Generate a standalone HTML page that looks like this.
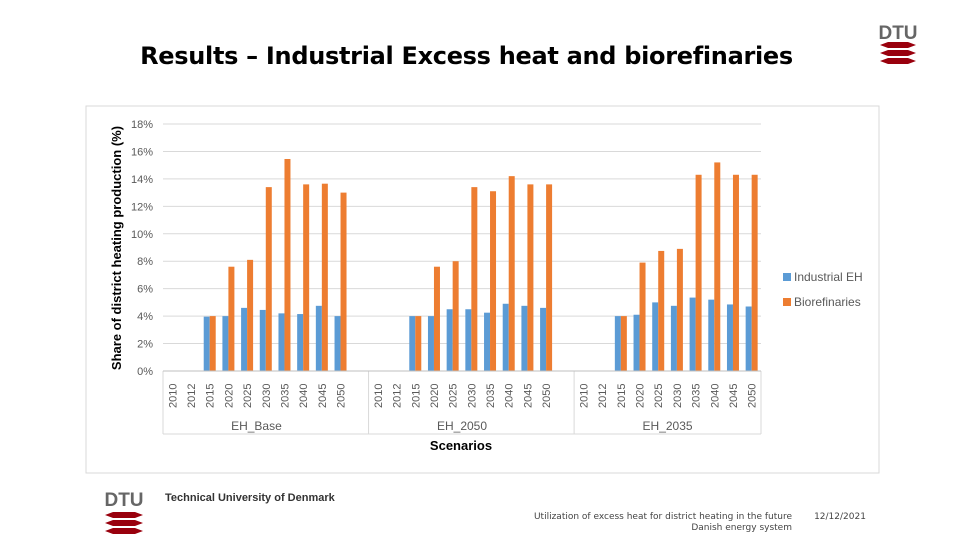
<!DOCTYPE html>
<html><head><meta charset="utf-8">
<style>
body{margin:0;width:960px;height:540px;background:#fff;position:relative;overflow:hidden;font-family:"Liberation Sans",sans-serif}
.abs{position:absolute}
</style></head><body>
<div class="abs" style="left:0;width:933px;top:42px;text-align:center;font:bold 24px 'DejaVu Sans',sans-serif;color:#000;letter-spacing:-0.3px">Results – Industrial Excess heat and biorefinaries</div>
<svg class="abs" style="left:0;top:0" width="960" height="540">
<g>
<text x="898" y="39" text-anchor="middle" font-family="Liberation Sans" font-weight="bold" font-size="19" fill="#666">DTU</text>
<g fill="#99000d"><path d="M880 45 l8 -3 h20 l8 3 l-8 3 h-20z"/><path d="M880 53 l8 -3 h20 l8 3 l-8 3 h-20z"/><path d="M880 61 l8 -3 h20 l8 3 l-8 3 h-20z"/></g>
</g>
<rect x="86" y="106" width="793" height="367" fill="#fff" stroke="#d9d9d9"/>
<g id="grid"></g><g id="bars"></g><g id="axis"></g>
<text transform="translate(121,248) rotate(-90)" text-anchor="middle" font-family="Liberation Sans" font-weight="bold" font-size="13" fill="#000">Share of district heating production (%)</text>
<text x="461" y="450" text-anchor="middle" font-family="Liberation Sans" font-weight="bold" font-size="13" fill="#000">Scenarios</text>
<g font-family="Liberation Sans" font-size="12" fill="#595959">
<rect x="783" y="273" width="8" height="8" fill="#5b9bd5"/>
<text x="794" y="281">Industrial EH</text>
<rect x="783" y="298" width="8" height="8" fill="#ed7d31"/>
<text x="794" y="306">Biorefinaries</text>
</g>
<g>
<text x="124" y="506" text-anchor="middle" font-family="Liberation Sans" font-weight="bold" font-size="19" fill="#666">DTU</text>
<g fill="#99000d"><path d="M105 515 l8 -3 h22 l8 3 l-8 3 h-22z"/><path d="M105 523 l8 -3 h22 l8 3 l-8 3 h-22z"/><path d="M105 531 l8 -3 h22 l8 3 l-8 3 h-22z"/></g>
</g>
<text x="165" y="501" font-family="Liberation Sans" font-weight="bold" font-size="11" fill="#333">Technical University of Denmark</text>
<text x="792" y="519" text-anchor="end" font-family="DejaVu Sans" font-size="9" fill="#444">Utilization of excess heat for district heating in the future</text>
<text x="792" y="530" text-anchor="end" font-family="DejaVu Sans" font-size="9" fill="#444">Danish energy system</text>
<text x="840" y="519" text-anchor="middle" font-family="DejaVu Sans" font-size="9" fill="#444">12/12/2021</text>
</svg>
<script>
const scenarios=["EH_Base","EH_2050","EH_2035"];
const years=["2010","2012","2015","2020","2025","2030","2035","2040","2045","2050"];
const industrialEH=[
[null,null,3.96,4.0,4.6,4.45,4.2,4.15,4.75,4.0],
[null,null,4.0,4.0,4.5,4.5,4.25,4.9,4.75,4.6],
[null,null,4.0,4.1,5.0,4.75,5.35,5.2,4.85,4.7]];
const biorefinaries=[
[null,null,4.0,7.6,8.1,13.4,15.45,13.6,13.65,13.0],
[null,null,4.0,7.6,8.0,13.4,13.1,14.2,13.6,13.6],
[null,null,4.0,7.9,8.75,8.9,14.3,15.2,14.3,14.3]];
const yTicks=[0,2,4,6,8,10,12,14,16,18];
const NS="http://www.w3.org/2000/svg";
const X0=163,X1=761,Y0=371,Y1=124,yMax=18,slotsPerGroup=11,totalSlots=32;
const slotW=(X1-X0)/totalSlots;
const y=v=>Y0-(v/yMax)*(Y0-Y1);
const groupX=g=>X0+g*slotsPerGroup*slotW;
const x=(g,i)=>groupX(g)+(i+0.5)*slotW;
function mk(tag,attrs,parent,text){const e=document.createElementNS(NS,tag);for(const k in attrs)e.setAttribute(k,attrs[k]);if(text!=null)e.textContent=text;parent.appendChild(e);return e;}
const grid=document.getElementById('grid'),bars=document.getElementById('bars'),axis=document.getElementById('axis');
yTicks.forEach(t=>{
 const l=mk('line',{x1:X0,x2:X1,y1:y(t),y2:y(t),stroke:'#d9d9d9','stroke-width':1},grid);
 
 
 const tx=mk('text',{x:X0-10,y:y(t)+4,'text-anchor':'end','font-family':'Liberation Sans','font-size':11,fill:'#595959'},axis,t+'%');
 
 
});
const bw=6;
scenarios.forEach((s,g)=>{
 years.forEach((yr,i)=>{
  const cx=x(g,i);
  const a=industrialEH[g][i],b=biorefinaries[g][i];
  if(a!=null){const r=mk('rect',{x:cx-bw,y:y(a),width:bw,height:Y0-y(a),fill:'#5b9bd5'},bars);
   
   }
  if(b!=null){const r=mk('rect',{x:cx,y:y(b),width:bw,height:Y0-y(b),fill:'#ed7d31'},bars);
   
   }
  const t=mk('text',{transform:`translate(${cx+4},${y(0)+37}) rotate(-90)`,'font-family':'Liberation Sans','font-size':11,fill:'#595959'},axis,yr);
  
  
 });
 const gx=groupX(g);
 const sl=mk('text',{x:(gx+x(g,9)+slotW/2)/2,y:430,'text-anchor':'middle','font-family':'Liberation Sans','font-size':12,fill:'#595959'},axis,s);
 
 
});
for(let g=0;g<=3;g++){
 const gx=Math.min(groupX(g),X1);
 const l=mk('line',{x1:gx,x2:gx,y1:Y0,y2:434,stroke:'#d9d9d9'},axis);
 
 
}
const base=mk('line',{x1:X0,x2:X1,y1:434,y2:434,stroke:'#d9d9d9'},axis);


const ax=mk('line',{x1:X0,x2:X1,y1:Y0,y2:Y0,stroke:'#bfbfbf'},axis);


</script>
</body></html>
